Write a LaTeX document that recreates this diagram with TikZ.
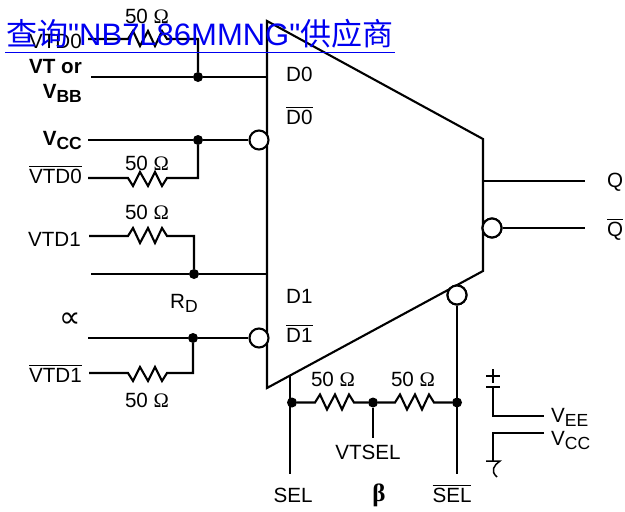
\documentclass[tikz,border=0pt]{standalone}
\usepackage{fontspec}
\setmainfont{Liberation Sans}
\newfontfamily\cjk{Noto Sans CJK SC}
\newfontfamily\wmf{Liberation Sans}
\newfontfamily\serifsym{Liberation Serif}
\newfontfamily\djv{DejaVu Sans}
\definecolor{wm}{RGB}{0,0,240}
\newcommand\ovl[1]{\leavevmode\vbox{\hrule height 1pt\kern 1.6pt\hbox{#1}}}
\newcommand\ohm{50 {\serifsym Ω}}
\newcommand\sbs[1]{\raisebox{-4.5pt}{\fontsize{17.5}{17.5}\selectfont #1}}
\def\zig{-- ++(5,8) -- ++(7,-14) -- ++(8,14) -- ++(7,-14) -- ++(7,14) -- ++(5,-8)}
\def\zag{-- ++(5,-8) -- ++(7,15) -- ++(8,-15) -- ++(7,15) -- ++(7,-15) -- ++(5,8)}
\tikzset{
  wire/.style={line width=2.1pt,line join=miter},
  thin wire/.style={line width=1.5pt},
  lbl/.style={font=\fontsize{20.6}{20.6}\selectfont,inner sep=0pt,text=black},
  west lbl/.style={lbl,anchor=base west},
  east lbl/.style={lbl,anchor=base east},
  mid lbl/.style={lbl,anchor=base},
  boldlbl/.style={east lbl,font=\fontsize{20.6}{20.6}\selectfont\bfseries,text=black},
  dot/.style={circle,fill=black,inner sep=0pt,minimum size=10pt},
  bubble/.style={circle,draw=black,fill=white,line width=2.1pt,inner sep=0pt,minimum size=19pt}
}
\begin{document}
\begin{tikzpicture}[x=1pt,y=-1pt]
\useasboundingbox (0,0) rectangle (625,512);
\fill[white] (0,0) rectangle (625,512);
% mux body
\coordinate (tl) at (267,21); \coordinate (tr) at (483,139);
\coordinate (br) at (483,271); \coordinate (bl) at (267,388);
\draw[wire,line join=miter] (tl) -- (tr) -- (br) -- (bl) -- cycle;
% dots and bubbles
\node[dot] (d1) at (198,77) {};
\node[dot] (d2) at (198,140) {};
\node[dot] (d3) at (194,274) {};
\node[dot] (d4) at (193,338) {};
\node[dot] (d5) at (292,402.5) {};
\node[dot] (d6) at (373,402.5) {};
\node[dot] (d7) at (457,402.5) {};
\node[bubble] (b1) at (259,140) {};
\node[bubble] (b2) at (259,338) {};
\node[bubble] (b3) at (492,228) {};
\node[bubble] (b4) at (457,295) {};
% free ends
\coordinate (a1) at (88,39);   \coordinate (a1r) at (128,39);  \coordinate (a1b) at (198,39);
\coordinate (a2) at (91,77);   \coordinate (a2e) at (267,77);
\coordinate (a3) at (88,140);
\coordinate (a4) at (88,178);  \coordinate (a4r) at (128,178); \coordinate (a4b) at (198,178);
\coordinate (a5) at (89,236);  \coordinate (a5r) at (128,236); \coordinate (a5b) at (194,236);
\coordinate (a6) at (91,274);  \coordinate (a6e) at (267,274);
\coordinate (a7) at (88,338);
\coordinate (a8) at (89,373);  \coordinate (a8r) at (128,373); \coordinate (a8b) at (193,373);
\coordinate (q1s) at (483,181); \coordinate (q1e) at (585,181);
\coordinate (q2e) at (585,228);
\coordinate (sels) at (290,376); \coordinate (sele) at (290,474);
\coordinate (selbe) at (457,474);
\coordinate (r1) at (315,402.5); \coordinate (r2) at (395,402.5);
\coordinate (vts) at (373,438);
% connectors
\draw[wire] (a1) -- (a1r) \zag -- (a1b) -- (d1);
\draw[wire] (a2) -- (d1) -- (a2e);
\draw[wire] (a3) -- (d2) -- (b1);
\draw[wire] (a4) -- (a4r) \zig -- (a4b) -- (d2);
\draw[wire] (a5) -- (a5r) \zag -- (a5b) -- (d3);
\draw[wire] (a6) -- (d3) -- (a6e);
\draw[wire] (a7) -- (d4) -- (b2);
\draw[wire] (a8) -- (a8r) \zig -- (a8b) -- (d4);
\draw[wire] (q1s) -- (q1e);
\draw[wire] (b3) -- (q2e);
\draw[wire] (sels) -- (sele);
\draw[wire] (d5) -- (r1) \zag -- (d6) -- (r2) \zag -- (d7);
\draw[wire] (d6) -- (vts);
\draw[wire] (b4) -- (selbe);
% redraw bubbles above wires
\node[bubble] at (b3) {}; \node[bubble] at (b4) {};
% power legend
\coordinate (p1) at (486,376); \coordinate (p2) at (500,376);
\coordinate (p3) at (493,369); \coordinate (p4) at (493,383);
\coordinate (p5) at (486,387); \coordinate (p6) at (500,387); \coordinate (p7) at (493,387);
\coordinate (p8) at (493,416); \coordinate (p9) at (544,416);
\coordinate (n1) at (544,433); \coordinate (n2) at (493,433); \coordinate (n3) at (493,461);
\coordinate (n4) at (486,461); \coordinate (n5) at (500,461);
\draw[thin wire] (p1) -- (p2) (p3) -- (p4) (p5) -- (p6);
\draw[wire] (p7) -- (p8) -- (p9);
\draw[wire] (n1) -- (n2) -- (n3);
\draw[thin wire] (n4) -- (n5) .. controls (494,465) and (490,471) .. (497,477);
% labels left
\node[east lbl] (l1) at (82,48) {VTD0};
\node[boldlbl] (l2) at (82,73) {VT or};
\node[boldlbl] (l3) at (82,98) {V\sbs{BB}};
\node[boldlbl] (l4) at (82,145) {V\sbs{CC}};
\node[east lbl] (l5) at (82,183) {\ovl{VTD0}};
\node[east lbl] (l6) at (81,246) {VTD1};
\node[east lbl,font=\fontsize{30}{30}\selectfont\djv,text=black] (l7) at (81,327) {∝};
\node[east lbl] (l8) at (82,382) {\ovl{VTD1}};
% resistor labels
\node[mid lbl] (o1) at (147,23) {\ohm};
\node[mid lbl] (o2) at (147,170) {\ohm};
\node[mid lbl] (o3) at (147,219) {\ohm};
\node[mid lbl] (o4) at (147,407) {\ohm};
\node[mid lbl] (o5) at (333,386) {\ohm};
\node[mid lbl] (o6) at (413,386) {\ohm};
\node[west lbl] (rd) at (170,308) {R\sbs{D}};
% labels in block
\node[west lbl] (t1) at (286,81) {D0};
\node[west lbl] (t2) at (286,124) {\ovl{D0}};
\node[west lbl] (t3) at (286,303) {D1};
\node[west lbl] (t4) at (286,342) {\ovl{D1}};
% outputs
\node[west lbl] (q1) at (607,187) {Q};
\node[west lbl] (q2) at (607,236) {\ovl{Q}};
% bottom
\node[mid lbl] (s1) at (293,502) {SEL};
\node[mid lbl] (s2) at (368,459) {VTSEL};
\node[mid lbl,font=\fontsize{25}{25}\selectfont\serifsym\bfseries,text=black] (s3) at (379,501) {β};
\node[mid lbl] (s4) at (452,502) {\ovl{SEL}};
\node[west lbl] (v1) at (551,422) {V\sbs{EE}};
\node[west lbl] (v2) at (551,445) {V\sbs{CC}};
% watermark
\node[anchor=base west,inner sep=0pt,text=wm,font=\fontsize{31}{31}\selectfont] (wmt) at (6,45.5) {{\cjk 查询}\wmf{}"NB7L86MMNG"{\cjk 供应商}};
\coordinate (u1) at (5,52.5); \coordinate (u2) at (395,52.5);
\draw[wm,line width=1.8pt] (u1) -- (u2);
\end{tikzpicture}
\end{document}
